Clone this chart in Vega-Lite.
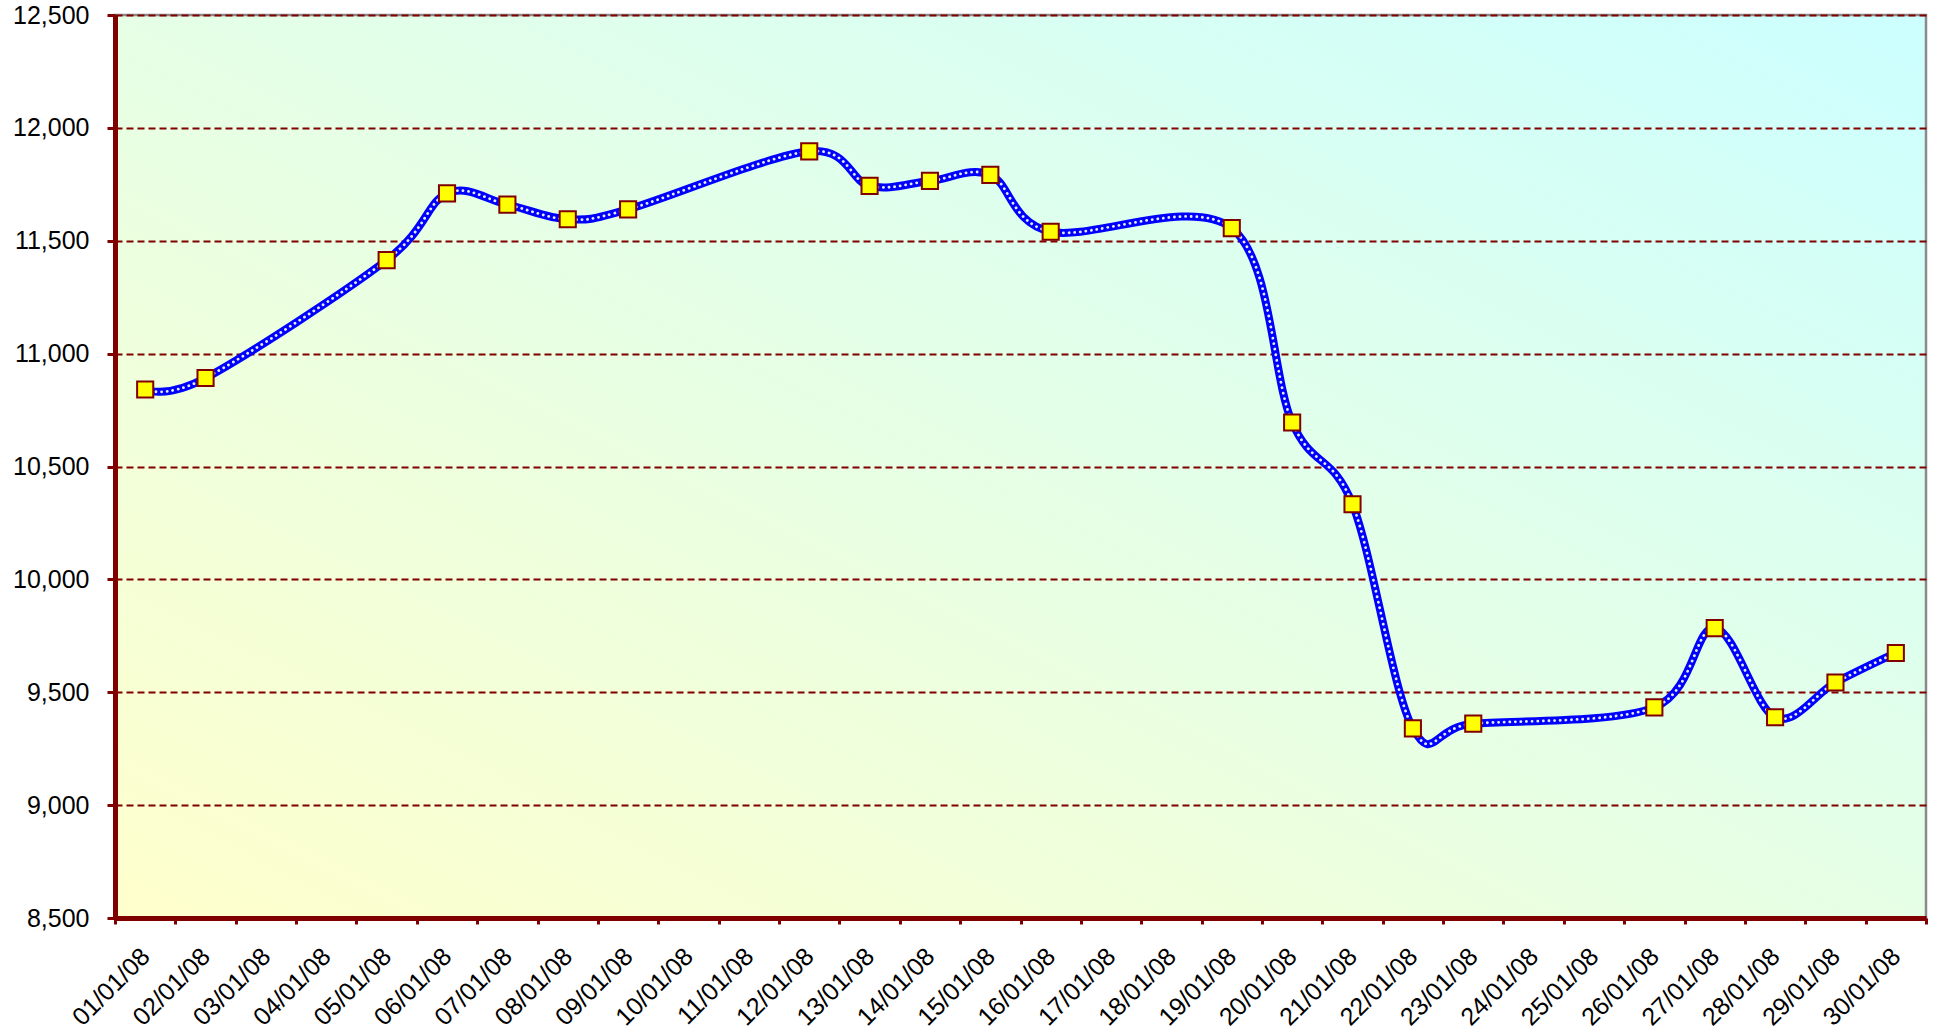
{
  "$schema": "https://vega.github.io/schema/vega-lite/v6.json",
  "width": 1811,
  "height": 903,
  "autosize": {"type": "none"},
  "padding": {"left": 115, "top": 15, "right": 17, "bottom": 118},
  "background": "white",
  "config": {
    "font": "Liberation Sans",
    "view": {
      "fill": {"gradient": "linear", "x1": 0, "y1": 1, "x2": 1, "y2": 0, "stops": [{"offset": 0, "color": "#FFFFCC"}, {"offset": 1, "color": "#CCFFFF"}]},
      "stroke": "#8a8a8a",
      "strokeWidth": 2.5
    }
  },
  "data": {
    "values": [
      {"date": "01/01/08", "value": 10841},
      {"date": "02/01/08", "value": 10892},
      {"date": "05/01/08", "value": 11414},
      {"date": "06/01/08", "value": 11710},
      {"date": "07/01/08", "value": 11660},
      {"date": "08/01/08", "value": 11595},
      {"date": "09/01/08", "value": 11639},
      {"date": "12/01/08", "value": 11896},
      {"date": "13/01/08", "value": 11743},
      {"date": "14/01/08", "value": 11765},
      {"date": "15/01/08", "value": 11792},
      {"date": "16/01/08", "value": 11540},
      {"date": "19/01/08", "value": 11556},
      {"date": "20/01/08", "value": 10695},
      {"date": "21/01/08", "value": 10333},
      {"date": "22/01/08", "value": 9340},
      {"date": "23/01/08", "value": 9361},
      {"date": "26/01/08", "value": 9433},
      {"date": "27/01/08", "value": 9784},
      {"date": "28/01/08", "value": 9389},
      {"date": "29/01/08", "value": 9543},
      {"date": "30/01/08", "value": 9674}
    ]
  },
  "encoding": {
    "x": {
      "field": "date",
      "type": "ordinal",
      "title": null,
      "scale": {
        "domain": ["01/01/08","02/01/08","03/01/08","04/01/08","05/01/08","06/01/08","07/01/08","08/01/08","09/01/08","10/01/08","11/01/08","12/01/08","13/01/08","14/01/08","15/01/08","16/01/08","17/01/08","18/01/08","19/01/08","20/01/08","21/01/08","22/01/08","23/01/08","24/01/08","25/01/08","26/01/08","27/01/08","28/01/08","29/01/08","30/01/08"],
        "paddingInner": 0,
        "paddingOuter": 0
      },
      "axis": {
        "tickBand": "extent",
        "grid": false,
        "domainColor": "#800000",
        "domainWidth": 5,
        "tickColor": "#800000",
        "tickWidth": 3,
        "tickSize": 6,
        "labelAngle": -45,
        "labelAlign": "right",
        "labelBaseline": "middle",
        "labelPadding": 28,
        "labelFontSize": 25,
        "labelColor": "#000000",
        "labelFont": "Liberation Sans"
      }
    },
    "y": {
      "field": "value",
      "type": "quantitative",
      "title": null,
      "scale": {"domain": [8500, 12500], "nice": false, "zero": false},
      "axis": {
        "values": [8500, 9000, 9500, 10000, 10500, 11000, 11500, 12000, 12500],
        "format": ",.0f",
        "grid": true,
        "gridColor": "#800000",
        "gridDash": [7, 4],
        "gridWidth": 2,
        "domainColor": "#800000",
        "domainWidth": 5,
        "tickColor": "#800000",
        "tickWidth": 3,
        "tickSize": 8,
        "labelPadding": 18,
        "labelFontSize": 25,
        "labelColor": "#000000",
        "labelFont": "Liberation Sans"
      }
    }
  },
  "layer": [
    {"mark": {"type": "line", "interpolate": "cardinal", "color": "#0000FF", "strokeWidth": 8}},
    {"mark": {"type": "line", "interpolate": "cardinal", "color": "#E6ECFF", "strokeWidth": 2.8, "strokeDash": [0.1, 5.5], "strokeCap": "round"}},
    {"mark": {"type": "point", "shape": "square", "filled": true, "fill": "#FFFF00", "stroke": "#800000", "strokeWidth": 2, "size": 260, "opacity": 1}}
  ]
}
